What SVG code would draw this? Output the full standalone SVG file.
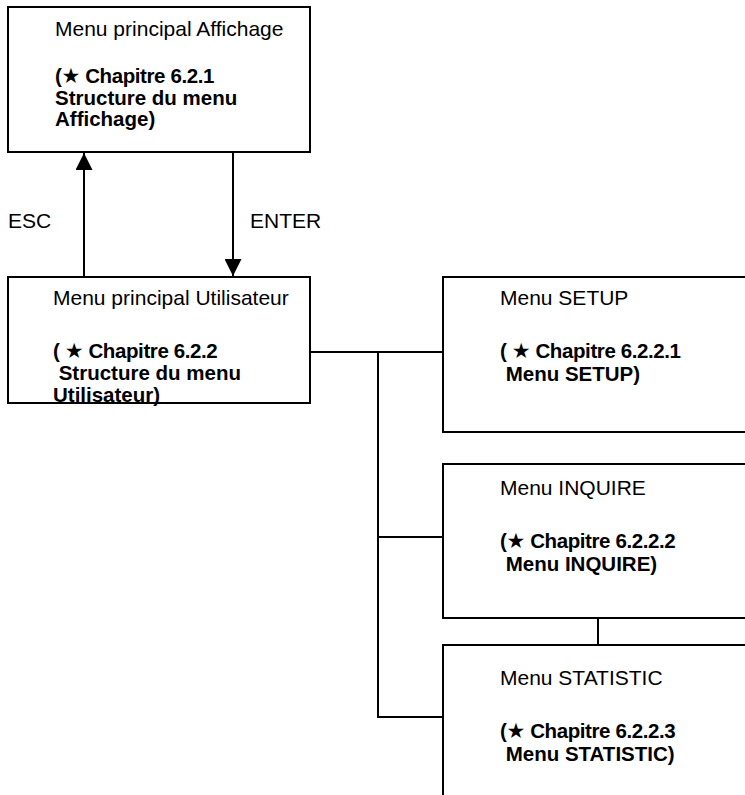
<svg xmlns="http://www.w3.org/2000/svg" width="745" height="795" viewBox="0 0 745 795">
<style>
.box{fill:#fff;stroke:#000;stroke-width:2}
.ln{fill:none;stroke:#000;stroke-width:2}
.t{font-family:"Liberation Sans",Arial,sans-serif;font-size:21px;fill:#000}
.b{font-family:"Liberation Sans",Arial,sans-serif;font-size:20.5px;font-weight:bold;fill:#000}
.c{letter-spacing:-0.4px}
.s{font-family:"DejaVu Sans",sans-serif;font-size:21px;font-weight:normal}
</style>
<defs>
<marker id="ah" viewBox="0 0 10 10" refX="10" refY="5" markerWidth="8.5" markerHeight="8.5" markerUnits="strokeWidth" orient="auto">
<path d="M0,0 L10,5 L0,10 Z" fill="#000"/>
</marker>
</defs>
<rect width="745" height="795" fill="#fff"/>
<g id="connectors">
<line class="ln" x1="84" y1="277" x2="84" y2="153" marker-end="url(#ah)"/>
<line class="ln" x1="233" y1="152" x2="233" y2="276" marker-end="url(#ah)"/>
<text class="t" x="8" y="228">ESC</text>
<text class="t" x="250" y="228">ENTER</text>
<polyline class="ln" points="311,352 443,352"/>
<polyline class="ln" points="378,352 378,717 443,717"/>
<line class="ln" x1="378" y1="537" x2="443" y2="537"/>
<line class="ln" x1="598" y1="618" x2="598" y2="645"/>
</g>
<g id="affichage">
<rect class="box" x="8" y="7" width="302" height="145"/>
<text class="t" x="55" y="36">Menu principal Affichage</text>
<text class="b c" x="55" y="83">(<tspan class="s">★</tspan> Chapitre 6.2.1</text>
<text class="b" x="55" y="105">Structure du menu</text>
<text class="b" x="55" y="126">Affichage)</text>
</g>
<g id="utilisateur">
<rect class="box" x="8" y="277" width="302" height="126"/>
<text class="t" x="53" y="305">Menu principal Utilisateur</text>
<text class="b c" x="53" y="358">( <tspan class="s">★</tspan> Chapitre 6.2.2</text>
<text class="b" x="53" y="380" xml:space="preserve"> Structure du menu</text>
<text class="b" x="53" y="402">Utilisateur)</text>
</g>
<g id="setup">
<rect class="box" x="443" y="277" width="320" height="155"/>
<text class="t" x="500" y="305">Menu SETUP</text>
<text class="b c" x="500" y="358">( <tspan class="s">★</tspan> Chapitre 6.2.2.1</text>
<text class="b" x="500" y="381" xml:space="preserve"> Menu SETUP)</text>
</g>
<g id="inquire">
<rect class="box" x="443" y="464" width="320" height="154"/>
<text class="t" x="500" y="495">Menu INQUIRE</text>
<text class="b c" x="500" y="548">(<tspan class="s">★</tspan> Chapitre 6.2.2.2</text>
<text class="b" x="500" y="571" xml:space="preserve"> Menu INQUIRE)</text>
</g>
<g id="statistic">
<rect class="box" x="443" y="645" width="320" height="200"/>
<text class="t" x="500" y="685">Menu STATISTIC</text>
<text class="b c" x="500" y="738">(<tspan class="s">★</tspan> Chapitre 6.2.2.3</text>
<text class="b" x="500" y="761" xml:space="preserve"> Menu STATISTIC)</text>
</g>
</svg>
